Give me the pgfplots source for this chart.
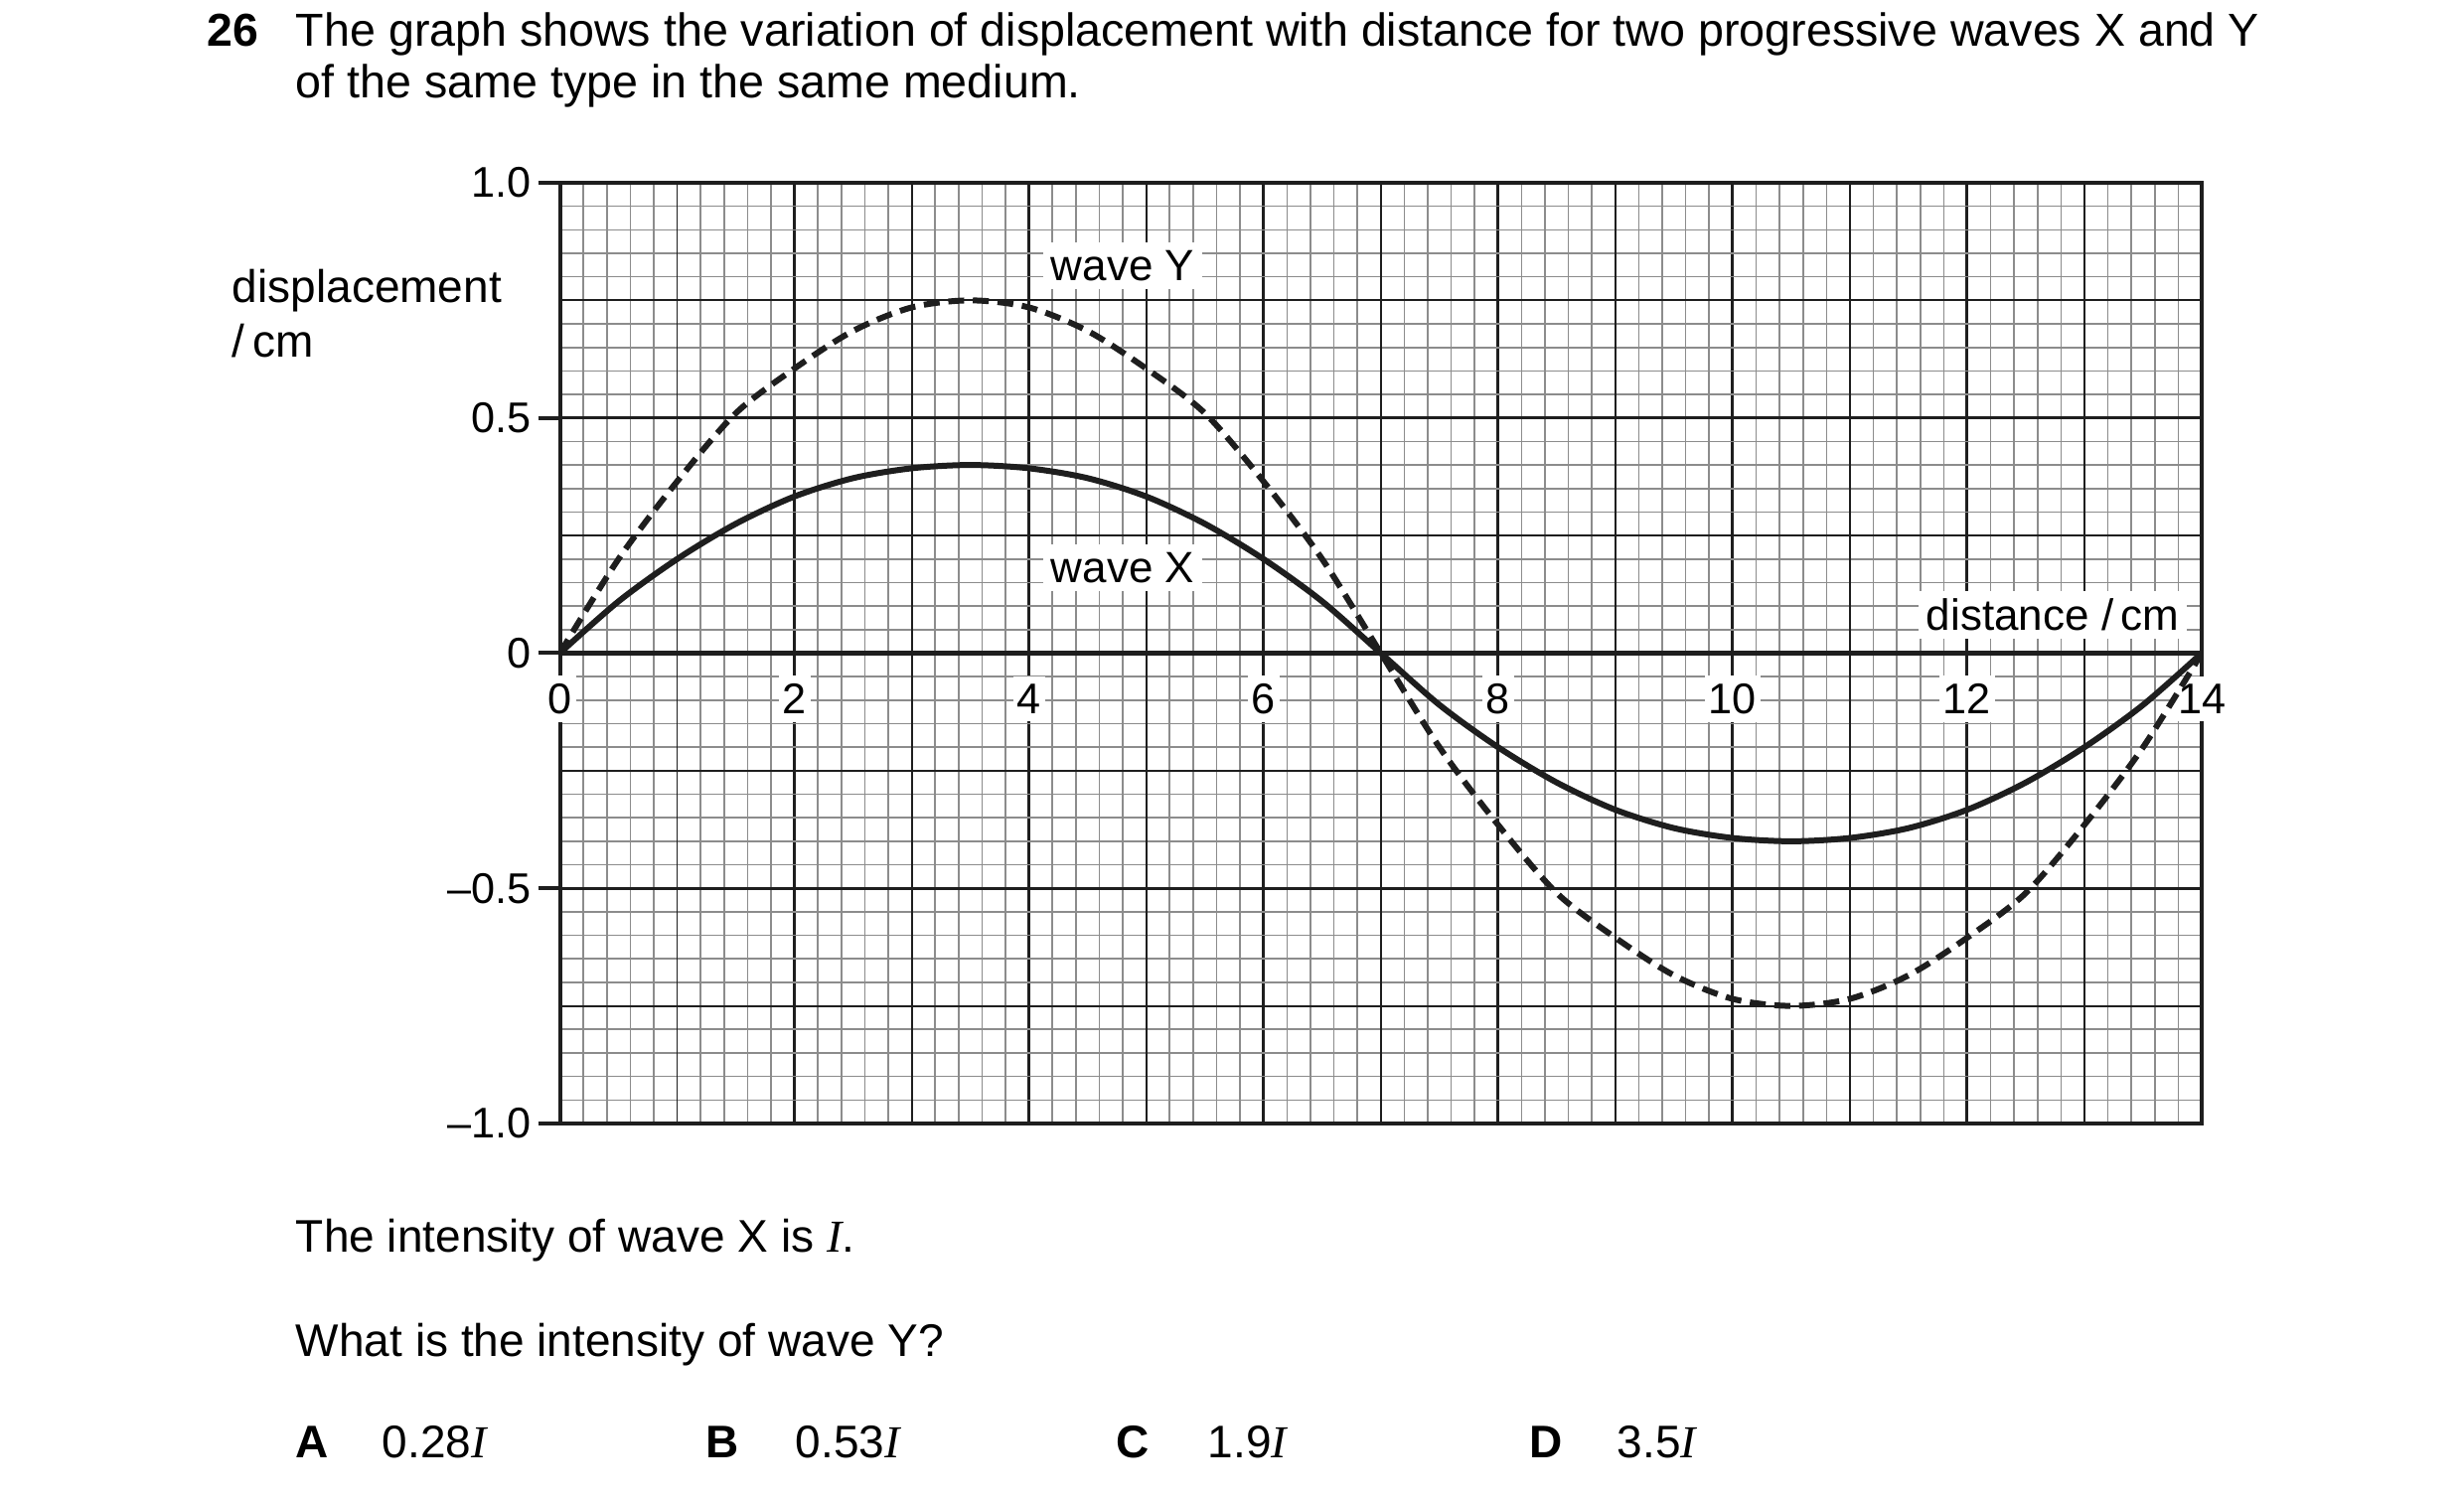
\documentclass[border=0pt]{standalone}
\usepackage{fontspec}
\setmainfont{Liberation Sans}
\newfontfamily\timesfont{Liberation Serif}
\usepackage{pgfplots}
\pgfplotsset{compat=1.18}

\definecolor{ink}{RGB}{30,30,30}
\definecolor{gridgray}{RGB}{140,140,140}
\newcommand{\I}{{\timesfont\itshape I}}

% displacement / cm against distance / cm
\pgfplotstableread{
x y
0 0
0.5 0.11
1 0.20
1.5 0.275
2 0.333
2.5 0.372
3 0.393
3.5 0.40
4 0.393
4.5 0.372
5 0.333
5.5 0.275
6 0.20
6.5 0.11
7 0
7.5 -0.11
8 -0.20
8.5 -0.275
9 -0.333
9.5 -0.372
10 -0.393
10.5 -0.40
11 -0.393
11.5 -0.372
12 -0.333
12.5 -0.275
13 -0.20
13.5 -0.11
14 0
}\waveX

\pgfplotstableread{
x y
0 0
0.5 0.20
1 0.365
1.5 0.51
2 0.605
2.5 0.685
3 0.735
3.5 0.75
4 0.735
4.5 0.685
5 0.605
5.5 0.51
6 0.365
6.5 0.20
7 0
7.5 -0.20
8 -0.365
8.5 -0.51
9 -0.605
9.5 -0.685
10 -0.735
10.5 -0.75
11 -0.735
11.5 -0.685
12 -0.605
12.5 -0.51
13 -0.365
13.5 -0.20
14 0
}\waveY

\begin{document}
\begin{tikzpicture}
\path[use as bounding box] (-140.875pt,-94.25pt) rectangle (479.125pt,282.75pt);
\begin{axis}[
  scale only axis,
  width=413.125pt, height=236.75pt,
  xmin=0, xmax=14, ymin=-1, ymax=1,
  clip mode=individual,
  axis line style={ink, line width=1pt},
  xtick={0,2,...,14}, xticklabels={},
  ytick={-1,-0.5,0,0.5,1},
  yticklabels={\textendash1.0,\textendash0.5,0,0.5,1.0},
  minor x tick num=9, minor y tick num=9,
  extra x ticks={1,3,...,13}, extra x tick labels={},
  extra y ticks={-0.75,-0.25,0.25,0.75}, extra y tick labels={},
  extra x tick style={grid=major, major grid style={ink, line width=0.45pt}, tick style={draw=none}},
  extra y tick style={grid=major, major grid style={ink, line width=0.45pt}, tick style={draw=none}},
  grid=both,
  minor grid style={gridgray, line width=0.4pt},
  major grid style={ink, line width=0.75pt},
  tick align=outside,
  major tick length=5.5pt, minor tick length=0pt,
  xtick style={draw=none},
  ytick style={ink, line width=1pt},
  ytick pos=left,
  yticklabel style={font=\fontsize{10.8}{13}\selectfont, anchor=east, inner sep=0pt, xshift=-1.6pt},
]
\draw[ink, line width=1.1pt] (axis cs:0,0) -- (axis cs:14,0);

\node[fill=white, inner xsep=1pt, inner ysep=2pt, font=\fontsize{10.8}{13}\selectfont] at (axis cs:0,-0.097) {0};
\node[fill=white, inner xsep=1pt, inner ysep=2pt, font=\fontsize{10.8}{13}\selectfont] at (axis cs:2,-0.097) {2};
\node[fill=white, inner xsep=1pt, inner ysep=2pt, font=\fontsize{10.8}{13}\selectfont] at (axis cs:4,-0.097) {4};
\node[fill=white, inner xsep=1pt, inner ysep=2pt, font=\fontsize{10.8}{13}\selectfont] at (axis cs:6,-0.097) {6};
\node[fill=white, inner xsep=1pt, inner ysep=2pt, font=\fontsize{10.8}{13}\selectfont] at (axis cs:8,-0.097) {8};
\node[fill=white, inner xsep=1pt, inner ysep=2pt, font=\fontsize{10.8}{13}\selectfont] at (axis cs:10,-0.097) {10};
\node[fill=white, inner xsep=1pt, inner ysep=2pt, font=\fontsize{10.8}{13}\selectfont] at (axis cs:12,-0.097) {12};
\node[fill=white, inner xsep=1pt, inner ysep=2pt, font=\fontsize{10.8}{13}\selectfont] at (axis cs:14,-0.097) {14};

\node[fill=white, inner sep=2pt, anchor=base, font=\fontsize{11}{13}\selectfont] at (axis cs:4.8,0.792) {wave Y};
\node[fill=white, inner sep=2pt, anchor=base, font=\fontsize{11}{13}\selectfont] at (axis cs:4.8,0.150) {wave X};
\node[fill=white, inner sep=2pt, anchor=base, font=\fontsize{11}{13}\selectfont] at (axis cs:12.73,0.048) {distance /\,cm};

\addplot[ink, line width=1.5pt, smooth] table {\waveX};
\addplot[ink, line width=1.5pt, smooth, dash pattern=on 4pt off 2.2pt] table {\waveY};
\end{axis}

\begin{scope}[every node/.style={inner sep=0pt, anchor=base west, font=\fontsize{11.5}{13}\selectfont}]
\node at (-88.9pt,271.1pt) {\fontsize{11.6}{13}\selectfont\bfseries 26};
\node at (-66.6pt,271.1pt) {\fontsize{11.65}{13}\selectfont The graph shows the variation of displacement with distance for two progressive waves X and Y};
\node at (-66.6pt,258.2pt) {\fontsize{11.65}{13}\selectfont of the same type in the same medium.};
\node at (-82.6pt,206.5pt) {displacement};
\node at (-82.6pt,192.75pt) {/\,cm};
\node at (-66.6pt,-32.25pt) {The intensity of wave X is \I.};
\node at (-66.6pt,-58.5pt) {What is the intensity of wave Y?};
\node at (-66.6pt,-84pt) {\bfseries A};
\node at (-44.9pt,-84pt) {0.28\I};
\node at (36.6pt,-84pt) {\bfseries B};
\node at (59.1pt,-84pt) {0.53\I};
\node at (139.9pt,-84pt) {\bfseries C};
\node at (162.9pt,-84pt) {1.9\I};
\node at (243.9pt,-84pt) {\bfseries D};
\node at (265.9pt,-84pt) {3.5\I};
\end{scope}
\end{tikzpicture}
\end{document}
